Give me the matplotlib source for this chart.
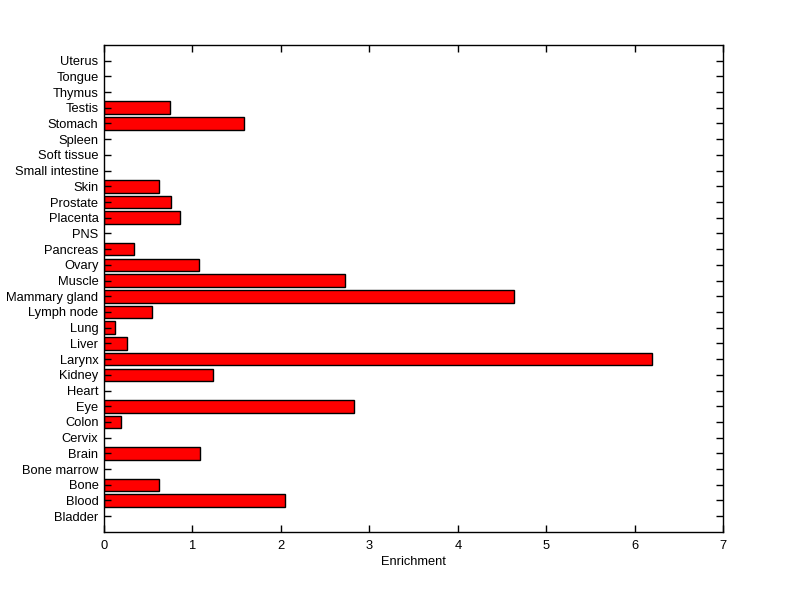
import matplotlib
matplotlib.use("Agg")
import matplotlib.pyplot as plt
import numpy as np

tissues = [
    "Bladder", "Blood", "Bone", "Bone marrow", "Brain", "Cervix", "Colon",
    "Eye", "Heart", "Kidney", "Larynx", "Liver", "Lung", "Lymph node",
    "Mammary gland", "Muscle", "Ovary", "Pancreas", "PNS", "Placenta",
    "Prostate", "Skin", "Small intestine", "Soft tissue", "Spleen",
    "Stomach", "Testis", "Thymus", "Tongue", "Uterus",
]
enrichment = [
    0, 2.05, 0.62, 0, 1.09, 0, 0.19,
    2.83, 0, 1.23, 6.20, 0.26, 0.12, 0.54,
    4.63, 2.73, 1.07, 0.34, 0, 0.86,
    0.76, 0.62, 0, 0, 0,
    1.58, 0.75, 0, 0, 0,
]

plt.rcParams["font.family"] = ["Liberation Sans", "DejaVu Sans"]
plt.rcParams["font.size"] = 9.3

fig = plt.figure(figsize=(8, 5.99), dpi=100)
ax = fig.add_axes([0.13, 0.112, 0.774, 0.813])

pos = np.arange(1, len(tissues) + 1)
vals = np.array(enrichment)
nz = vals > 0
ax.barh(pos[nz], vals[nz], height=0.8, color="red", edgecolor="black", linewidth=1)

ax.set_xlim(0, 7)
ax.set_ylim(0, len(tissues) + 1)
ax.set_yticks(pos)
ax.set_yticklabels(tissues)
ax.set_xticks(range(0, 8))
ax.set_xlabel("Enrichment", labelpad=3)

ax.tick_params(direction="in", length=5, width=1, top=True, right=True)
ax.tick_params(axis="x", pad=6)
ax.tick_params(axis="y", pad=4)
for s in ax.spines.values():
    s.set_linewidth(1)

fig.savefig("out.png", dpi=100)
